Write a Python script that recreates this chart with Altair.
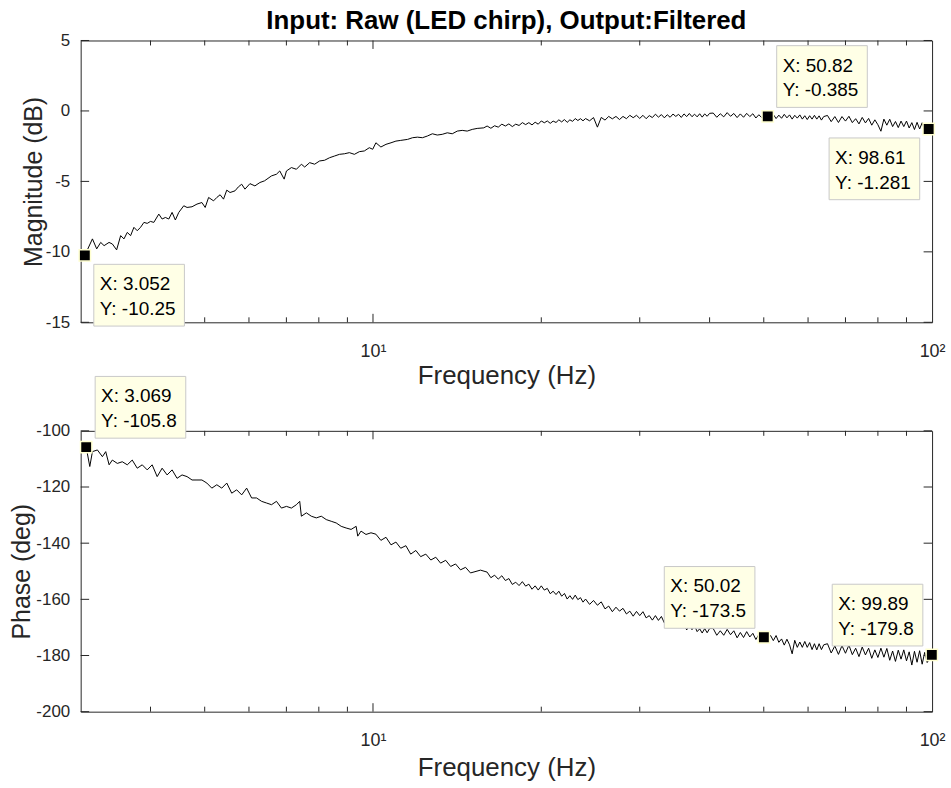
import altair as alt
import pandas as pd

# ---------------- data ----------------
chart_title = "Input: Raw (LED chirp), Output:Filtered"

mag_freq_low = [3.052, 3.149, 3.205, 3.258, 3.304, 3.372, 3.418, 3.479, 3.537, 3.586,
                3.635, 3.685, 3.736, 3.787, 3.839, 3.893, 3.946, 4.000, 4.055, 4.139,
                4.196, 4.253, 4.313, 4.372, 4.431, 4.494, 4.587, 4.650, 4.746, 4.844,
                4.943, 5.010, 5.081, 5.186, 5.256, 5.328, 5.403, 5.476, 5.550, 5.665,
                5.744, 5.823, 5.902, 6.024, 6.149, 6.276, 6.397, 6.584, 6.720, 6.812,
                6.936, 7.002, 7.146, 7.295, 7.446, 7.548, 7.704, 7.864, 8.026, 8.192,
                8.362, 8.535, 8.710, 8.890, 9.074, 9.262, 9.454, 9.650, 9.849, 9.988,
                10.12, 10.33, 10.55, 10.77, 10.99, 11.21, 11.53, 11.77, 12.01, 12.26,
                12.51, 12.77, 13.03, 13.30, 13.58, 13.86, 14.15, 14.44, 14.74, 15.05,
                15.36, 15.78]
mag_db_low = [-10.25, -9.08, -9.79, -9.33, -9.56, -9.33, -9.44, -9.86, -8.85, -9.08,
              -8.62, -8.85, -8.26, -8.50, -8.26, -7.91, -7.98, -7.84, -7.91, -7.32,
              -7.67, -7.56, -7.67, -7.20, -7.74, -7.20, -6.73, -6.85, -6.80, -6.61,
              -6.50, -6.85, -6.14, -6.38, -6.14, -5.95, -6.26, -5.62, -5.79, -5.67,
              -5.39, -5.20, -5.55, -5.16, -5.32, -5.08, -4.96, -4.61, -4.49, -4.26,
              -4.84, -4.26, -4.02, -4.14, -3.78, -3.98, -3.67, -3.78, -3.55, -3.50,
              -3.32, -3.20, -3.08, -3.04, -2.96, -3.08, -2.89, -2.84, -2.61, -2.72,
              -2.26, -2.56, -2.37, -2.26, -2.14, -2.09, -2.02, -1.90, -1.86, -1.90,
              -1.78, -1.62, -1.71, -1.66, -1.55, -1.62, -1.43, -1.38, -1.43, -1.31,
              -1.24, -1.20]

hf_a = [16.0, 16.25, 16.5, 16.75, 17.0, 17.25, 17.5, 17.75, 18.0, 18.25, 18.5, 18.75,
        19.0, 19.25, 19.5, 19.75, 20.0, 20.25, 20.5, 20.75, 21.0, 21.25, 21.5, 21.75,
        22.0, 22.25, 22.5, 22.75, 23.0, 23.25, 23.5, 23.75, 24.0]
hf_b = [24.4, 24.8, 25.2, 25.6, 26.0, 26.4, 26.8, 27.2, 27.6, 28.0, 28.4, 28.8, 29.2,
        29.6, 30.0, 30.4, 30.8, 31.2, 31.6, 32.0, 32.4, 32.8, 33.2, 33.6, 34.0, 34.4,
        34.8, 35.2, 35.6, 36.0, 36.4, 36.8, 37.2, 37.6, 38.0, 38.4, 38.8, 39.2, 39.6, 40.0]
mag_hf_c = [40.6, 41.2, 41.8, 42.4, 43.0, 43.6, 44.2, 44.8, 45.4, 46.0, 46.6, 47.2, 47.8,
            48.4, 49.0, 49.6, 50.2, 50.82, 51.4, 52.0, 52.6, 53.2, 53.8, 54.4, 55.0, 55.6,
            56.2, 56.8, 57.4, 58.0, 58.6, 59.2, 59.8, 60.4, 61.0, 61.6, 62.2, 62.8, 63.4, 64.0]
mag_hf_d = [65, 66, 67, 68, 69, 70, 71, 72, 73, 74, 75, 76, 77, 78, 79, 80, 81, 82, 83,
            84, 85, 86, 87, 88, 89, 90, 91, 92, 93, 94, 95, 96, 97, 98, 98.61, 99.4, 100.0]

mag_db_a = [-1.07, -1.23, -1.05, -1.15, -0.94, -1.07, -0.92, -1.11, -0.94, -1.03,
            -0.83, -0.97, -0.83, -0.99, -0.80, -0.94, -0.71, -0.84, -0.71, -0.88,
            -0.72, -0.82, -0.63, -0.78, -0.61, -0.81, -0.63, -0.74, -0.54, -0.68,
            -0.55, -0.70, -0.54]
mag_db_b = [-0.70, -0.47, -1.15, -0.46, -0.65, -0.39, -0.56, -0.39, -0.61, -0.39,
            -0.55, -0.31, -0.48, -0.31, -0.53, -0.31, -0.55, -0.33, -0.47, -0.23,
            -0.44, -0.26, -0.49, -0.27, -0.45, -0.22, -0.39, -0.24, -0.46, -0.21,
            -0.40, -0.18, -0.41, -0.23, -0.42, -0.20, -0.44, -0.21, -0.38, -0.17]
mag_db_c = [-0.15, -0.45, -0.20, -0.42, -0.12, -0.38, -0.18, -0.47, -0.21, -0.45,
            -0.17, -0.40, -0.20, -0.50, -0.27, -0.48, -0.27, -0.385, -0.49, -0.25,
            -0.54, -0.30, -0.52, -0.24, -0.49, -0.28, -0.58, -0.31, -0.51, -0.28,
            -0.58, -0.34, -0.61, -0.34, -0.58, -0.31, -0.58, -0.35, -0.65, -0.40]
mag_db_d = [-0.32, -0.76, -0.40, -0.82, -0.40, -0.72, -0.38, -0.83, -0.55, -0.92,
            -0.46, -0.85, -0.53, -1.01, -0.63, -0.98, -1.44, -0.58, -1.01, -0.59,
            -1.11, -0.75, -1.18, -0.72, -1.11, -0.72, -1.21, -0.83, -1.32, -0.81,
            -1.28, -0.84, -1.40, -1.00, -1.281, -1.47, -1.13]

ph_freq_low = [3.069, 3.115, 3.149, 3.214, 3.281, 3.326, 3.373, 3.418, 3.489, 3.561,
               3.635, 3.710, 3.787, 3.866, 3.946, 4.027, 4.111, 4.196, 4.283, 4.372,
               4.462, 4.555, 4.650, 4.746, 4.844, 4.943, 5.045, 5.149, 5.256, 5.364,
               5.476, 5.589, 5.704, 5.823, 5.943, 6.066, 6.191, 6.320, 6.450, 6.584,
               6.720, 6.859, 7.002, 7.146, 7.295, 7.395, 7.446, 7.600, 7.757, 7.918,
               8.082, 8.249, 8.419, 8.594, 8.772, 8.953, 9.138, 9.329, 9.391, 9.519,
               9.716, 9.918, 10.12, 10.33, 10.55, 10.77, 10.99, 11.21, 11.45, 11.68,
               11.93, 12.17, 12.43, 12.69, 12.95, 13.21, 13.49, 13.77, 14.05, 14.34,
               14.64, 14.94, 15.57]
ph_deg_low = [-105.8, -112.7, -107.4, -106.8, -109.2, -107.4, -112.1, -110.4, -111.6, -111.0,
              -112.1, -110.4, -113.3, -112.1, -113.9, -112.1, -116.3, -113.3, -115.7, -113.9,
              -116.9, -115.7, -116.3, -117.5, -117.5, -117.5, -118.6, -120.4, -119.2, -120.4,
              -118.6, -122.2, -121.0, -122.8, -120.4, -123.9, -123.9, -125.1, -125.7, -126.3,
              -125.1, -127.5, -126.9, -127.5, -126.3, -125.1, -130.4, -129.2, -130.4, -131.0,
              -130.4, -131.6, -132.2, -132.8, -134.0, -134.6, -135.1, -134.0, -137.5, -135.7,
              -136.9, -136.3, -136.8, -139.0, -137.9, -140.6, -139.6, -141.8, -140.9, -143.9,
              -142.6, -144.8, -143.9, -146.0, -145.0, -147.1, -146.1, -148.3, -147.4, -149.5,
              -148.6, -150.6, -149.6]

ph_hf_c = [40.6, 41.2, 41.8, 42.4, 43.0, 43.6, 44.2, 44.8, 45.4, 46.0, 46.6, 47.2, 47.8,
           48.4, 49.0, 49.6, 50.02, 50.8, 51.4, 52.0, 52.6, 53.2, 53.8, 54.4, 55.0, 55.6,
           56.2, 56.8, 57.4, 58.0, 58.6, 59.2, 59.8, 60.4, 61.0, 61.6, 62.2, 62.8, 63.4, 64.0]
ph_hf_d = [65, 66, 67, 68, 69, 70, 71, 72, 73, 74, 75, 76, 77, 78, 79, 80, 81, 82, 83,
           84, 85, 86, 87, 88, 89, 90, 91, 92, 93, 94, 95, 96, 97, 98, 99.89, 100.0]

ph_deg_a = [-150.3, -152.3, -151.4, -152.8, -151.6, -153.3, -152.6, -154.7, -153.9, -155.1,
            -153.7, -155.3, -154.6, -156.4, -155.2, -156.7, -155.2, -156.7, -156.1, -158.0,
            -157.1, -158.3, -157.1, -158.9, -157.9, -159.9, -158.7, -160.0, -158.5, -160.1,
            -159.4, -161.0, -159.9]
ph_deg_b = [-161.8, -160.4, -162.1, -160.9, -163.4, -162.4, -164.4, -162.8, -164.2, -163.2,
            -165.2, -164.2, -166.0, -164.3, -165.8, -164.4, -166.6, -165.8, -167.4, -165.8,
            -167.5, -166.1, -168.4, -167.2, -169.2, -167.6, -169.0, -168.0, -170.1, -169.0,
            -170.9, -169.2, -170.8, -169.4, -171.5, -170.5, -172.0, -170.4, -171.9, -170.4]
ph_deg_c = [-170.4, -172.8, -171.2, -172.8, -170.7, -172.6, -171.2, -173.7, -171.8, -173.6,
            -171.5, -173.4, -172.1, -174.3, -172.5, -174.4, -173.5, -174.8, -172.8, -174.7,
            -172.9, -175.3, -174.1, -176.3, -174.2, -176.2, -179.4, -174.6, -177.1, -175.2,
            -177.1, -175.0, -177.1, -175.4, -177.9, -175.8, -178.0, -175.8, -177.9, -176.2]
ph_deg_d = [-175.8, -179.1, -176.6, -179.6, -176.5, -179.2, -176.3, -179.7, -177.4, -180.4,
            -177.0, -179.8, -177.4, -181.0, -178.0, -180.7, -177.4, -180.6, -177.5, -181.7,
            -178.4, -182.1, -178.1, -181.3, -178.0, -181.9, -178.7, -183.4, -178.5, -182.4,
            -178.3, -183.1, -178.9, -182.5, -179.8, -179.8]

# data tips
mag_tip_x = [3.052, 50.82, 98.61]
mag_tip_y = [-10.25, -0.385, -1.281]
ph_tip_x = [3.069, 50.02, 99.89]
ph_tip_y = [-105.8, -173.5, -179.8]

# axis ticks
x_label_values = [10, 100]
x_major_ticks = [10]
x_minor_ticks = [4, 5, 6, 7, 8, 9, 20, 30, 40, 50, 60, 70, 80, 90]
mag_ticks = [5, 0, -5, -10, -15]
ph_ticks = [-100, -120, -140, -160, -180, -200]

# ---------------- styling ----------------
FONT = "Liberation Sans"
INK = "#262626"
W = 855
H_MAG = 283
H_PH = 282
BOX_W, BOX_H = 91, 62

x_scale = alt.Scale(type="log", domain=[3.0, 100], nice=False)


def x_axis(title_y):
    return alt.Axis(values=x_label_values,
                    labelExpr="datum.value == 10 ? '10\u00b9' : '10\u00b2'",
                    ticks=False, domain=False, grid=False, labelFlush=False,
                    labelFont=FONT, labelFontSize=18, labelColor=INK, labelPadding=20,
                    title="Frequency (Hz)", titleFont=FONT, titleFontSize=26,
                    titleFontWeight="normal", titleColor=INK,
                    titleBaseline="alphabetic", titleY=title_y)


def y_axis(values, title, tpad):
    return alt.Axis(values=values, ticks=False, domain=False, grid=False,
                    labelExpr="'' + datum.value",
                    labelFont=FONT, labelFontSize=17, labelColor=INK, labelPadding=11,
                    title=title, titleFont=FONT, titleFontSize=25,
                    titleFontWeight="normal", titleColor=INK, titlePadding=tpad)


def panel(freq, vals, yscale, yticks, ytitle, tpad, title_y, tips_x, tips_y, places,
          height, title=None):
    df = pd.DataFrame({"f": freq, "v": vals})
    xa = x_axis(title_y)
    ya = y_axis(yticks, ytitle, tpad)

    def xenc(field):
        return alt.X(field, scale=x_scale, axis=xa)

    def yenc(field):
        return alt.Y(field, scale=yscale, axis=ya)

    layers = [
        alt.Chart(df).mark_line(color="black", strokeWidth=1, clip=True).encode(
            x=xenc("f:Q"), y=yenc("v:Q"))
    ]
    # inward ticks (MATLAB box style)
    for tick_vals, ln in ((x_minor_ticks, 5), (x_major_ticks, 8.5)):
        tdf = pd.DataFrame({"t": tick_vals})
        for y0, y1 in ((height, height - ln), (0, ln)):
            layers.append(
                alt.Chart(tdf).mark_rule(color=INK, strokeWidth=1).encode(
                    x=xenc("t:Q"), y=alt.value(y0), y2=alt.value(y1)))
    ydf = pd.DataFrame({"t": yticks})
    for x0, x1 in ((0, 8.5), (W, W - 8.5)):
        layers.append(
            alt.Chart(ydf).mark_rule(color=INK, strokeWidth=1).encode(
                y=yenc("t:Q"), x=alt.value(x0), x2=alt.value(x1)))
    # data tips
    for tx, ty, (hs, vs) in zip(tips_x, tips_y, places):
        ox = 9 if hs == "right" else -100
        oy = 9 if vs == "below" else -71
        row = pd.DataFrame({"f": [tx], "v": [ty], "label": [f"X: {tx}\nY: {ty}"]})
        path = f"M{ox},{oy}h{BOX_W}v{BOX_H}h{-BOX_W}Z"
        layers.append(alt.Chart(row).mark_point(
            shape=path, size=4, filled=True, fill="#FFFFE6", stroke="#C9C9C9",
            strokeWidth=1, opacity=1).encode(x=xenc("f:Q"), y=yenc("v:Q")))
        layers.append(alt.Chart(row).mark_square(
            size=130, fill="black", stroke="#FFFFD0", strokeWidth=1.5,
            opacity=1).encode(x=xenc("f:Q"), y=yenc("v:Q")))
        layers.append(alt.Chart(row).mark_text(
            align="left", baseline="alphabetic", dx=ox + 6, dy=oy + 26,
            lineBreak="\n", lineHeight=25, font=FONT, fontSize=19, color="black"
        ).encode(x=xenc("f:Q"), y=yenc("v:Q"), text="label:N"))
    if title is not None:
        layers.append(alt.Chart(pd.DataFrame({"t": [title]})).mark_text(
            align="center", baseline="alphabetic", font=FONT, fontSize=26,
            fontWeight="bold", color="black"
        ).encode(text="t:N", x=alt.value(W / 2), y=alt.value(-12)))
    return alt.layer(*layers).properties(width=W, height=height)


mag_freq = mag_freq_low + hf_a + hf_b + mag_hf_c + mag_hf_d
mag_db = mag_db_low + mag_db_a + mag_db_b + mag_db_c + mag_db_d
ph_freq = ph_freq_low + hf_a + hf_b + ph_hf_c + ph_hf_d
ph_deg = ph_deg_low + ph_deg_a + ph_deg_b + ph_deg_c + ph_deg_d

top = panel(mag_freq, mag_db, alt.Scale(domain=[-15, 5], nice=False, zero=False),
            mag_ticks, "Magnitude (dB)", -1, 61, mag_tip_x, mag_tip_y,
            [("right", "below"), ("right", "above"), ("left", "below")], H_MAG,
            title=chart_title)
bottom = panel(ph_freq, ph_deg, alt.Scale(domain=[-200, -100], nice=False, zero=False),
               ph_ticks, "Phase (deg)", 1, 64, ph_tip_x, ph_tip_y,
               [("right", "above"), ("left", "above"), ("left", "above")], H_PH)

chart = alt.vconcat(top, bottom, spacing=109, bounds="flush").configure_view(
    stroke=INK, strokeWidth=1
).properties(padding={"left": 9, "top": 5, "right": 5, "bottom": 5}, background="white")

chart.save("out.html", embed_options={"renderer": "svg", "actions": False})
